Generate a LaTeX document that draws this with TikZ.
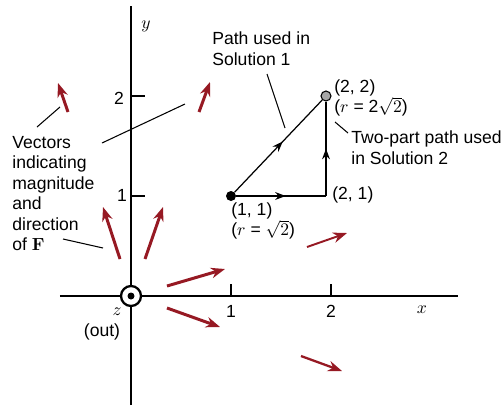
\documentclass[tikz,border=0pt]{standalone}
\usepackage{amsmath}
\usepackage[no-math]{fontspec}
\setmainfont{Liberation Sans}
\usetikzlibrary{arrows.meta, decorations.markings}
\definecolor{vecred}{RGB}{150,25,35}

\begin{document}
\begin{tikzpicture}[x=2cm, y=2cm,
  fieldvec/.style={vecred, line width=1.7pt, -{Stealth[length=8pt,width=6pt]}},
  lbl/.style={font=\fontsize{10}{11.7}\selectfont, align=left, inner sep=0pt, anchor=west},
  axis/.style={line width=0.9pt},
  leader/.style={line width=0.6pt},
  midarrow/.style={postaction={decorate}, decoration={markings,
      mark=at position #1 with {\arrow{Stealth[length=6pt,width=4.5pt]}}}}
]
  \useasboundingbox (-1.31,-1.09) rectangle (3.73,2.96);

  % axes
  \coordinate (xl) at (-0.71,0);
  \coordinate (xr) at (3.27,0);
  \coordinate (yb) at (0,-1.09);
  \coordinate (yt) at (0,2.90);
  \draw[axis] (xl) -- (xr);
  \draw[axis] (yb) -- (yt);
  \draw[axis] (1,0) -- (1,0.12);
  \draw[axis] (2,0) -- (2,0.12);
  \draw[axis] (0,1) -- (0.14,1);
  \draw[axis] (0,2) -- (0.14,2);
  \node[lbl, anchor=center] (t1x) at (1,-0.15) {1};
  \node[lbl, anchor=center] (t2x) at (2,-0.15) {2};
  \node[anchor=center] (xlab) at (2.91,-0.14) {$x$};
  \node[lbl, anchor=center] (t1y) at (-0.09,1.01) {1};
  \node[lbl, anchor=center] (t2y) at (-0.12,1.98) {2};
  \node[anchor=center] (ylab) at (0.15,2.70) {$y$};
  \node[anchor=center] (zlab) at (-0.14,-0.16) {$z$};
  \node[lbl, anchor=center] (out) at (-0.29,-0.36) {(out)};

  % z axis out of page
  \node[circle, draw, fill=white, line width=1.3pt, minimum size=0.4cm, inner sep=0pt] (org) at (0,0) {};
  \fill (org.center) circle (0.035);

  % field vectors
  \draw[fieldvec] (-0.63,1.84) -- (-0.73,2.13);
  \draw[fieldvec] (0.68,1.84) -- (0.79,2.14);
  \draw[fieldvec] (-0.11,0.37) -- (-0.28,0.89);
  \draw[fieldvec] (0.14,0.37) -- (0.32,0.89);
  \draw[fieldvec] (0.36,0.10) -- (0.94,0.27);
  \draw[fieldvec] (0.36,-0.12) -- (0.89,-0.31);
  \draw[fieldvec, line width=1.3pt] (1.70,-0.60) -- (2.11,-0.75);
  \draw[fieldvec, line width=1.1pt] (1.76,0.49) -- (2.16,0.63);

  % integration paths
  \node[circle, fill, inner sep=0pt, minimum size=0.2cm] (p11) at (1,1) {};
  \node[circle, draw, fill=gray!70, line width=0.6pt, inner sep=0pt, minimum size=0.2cm] (p22) at (1.95,2) {};
  \coordinate (p21) at (1.95,1);
  \draw[line width=0.7pt, midarrow=0.55] (p11) -- (p22);
  \draw[line width=0.7pt, midarrow=0.55] (p11) -- (p21);
  \draw[line width=0.7pt, midarrow=0.5] (p21) -- (p22);

  % labels
  \node[lbl] (sol1) at (0.81,2.475) {Path used in\\Solution 1};
  \node[lbl] (l22) at (2.03,1.98) {(2, 2)\\($r$ = 2\smash[t]{$\sqrt{2}$})};
  \node[lbl] (sol2) at (2.20,1.485) {Two-part path used\\in Solution 2};
  \node[lbl] (l21) at (2.01,1.01) {(2, 1)};
  \node[lbl] (l11) at (1.00,0.75) {(1, 1)\\($r$ = \smash[t]{$\sqrt{2}$})};
  \node[lbl] (vecs) at (-1.19,1.025) {Vectors\\indicating\\magnitude\\and\\direction\\of $\mathbf{F}$};

  % leaders
  \coordinate (a1) at (1.36,2.22);
  \coordinate (a2) at (1.54,1.68);
  \draw[leader] (a1) -- (a2);
  \coordinate (b1) at (2.04,1.74);
  \coordinate (b2) at (2.17,1.63);
  \draw[leader] (b1) -- (b2);
  \coordinate (c1) at (-0.94,1.69);
  \coordinate (c2) at (-0.71,1.89);
  \draw[leader] (c1) -- (c2);
  \coordinate (d1) at (-0.29,1.53);
  \coordinate (d2) at (0.54,1.92);
  \draw[leader] (d1) -- (d2);
  \coordinate (e1) at (-0.68,0.57);
  \coordinate (e2) at (-0.28,0.48);
  \draw[leader] (e1) -- (e2);
\end{tikzpicture}
\end{document}
